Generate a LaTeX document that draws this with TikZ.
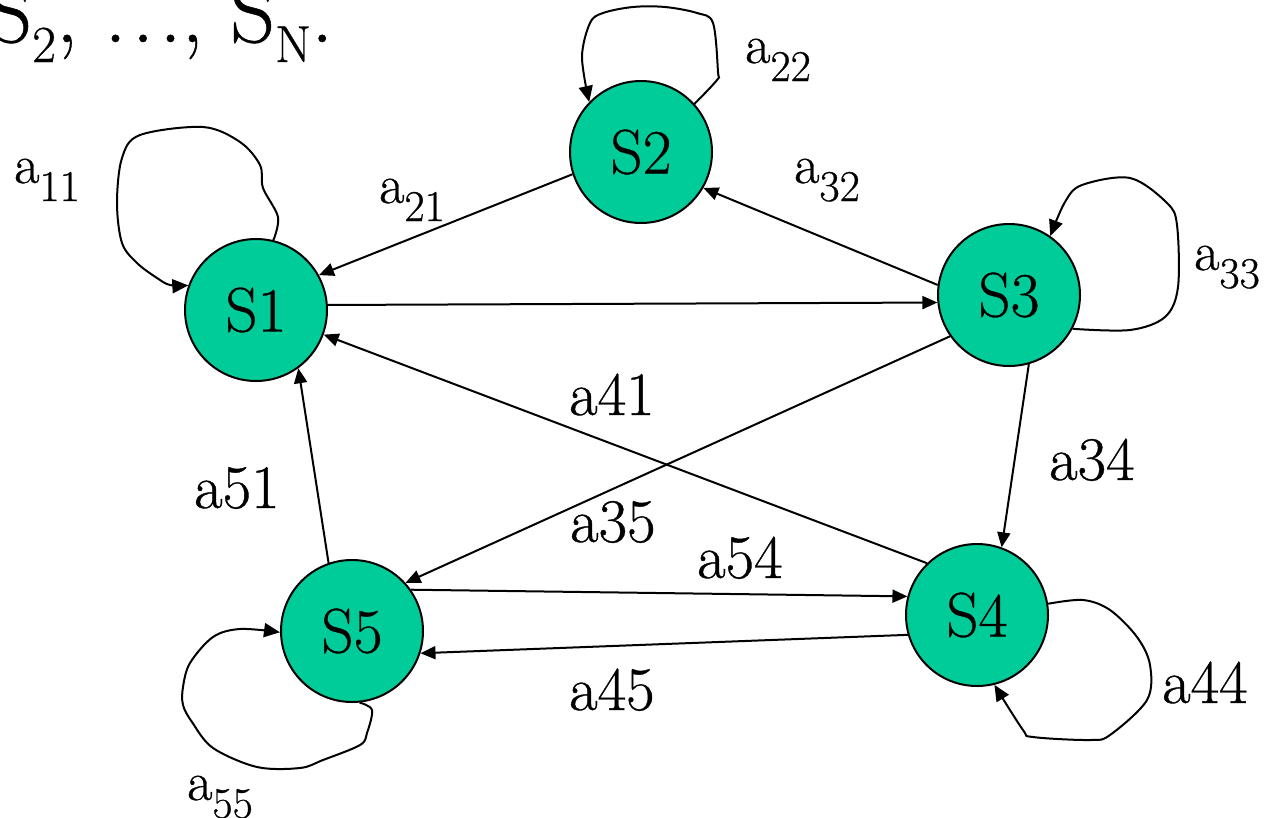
\documentclass[tikz,border=0pt]{standalone}
\usepackage{fontspec}
\setmainfont{Latin Modern Roman}[FakeBold=0.6]
\usetikzlibrary{arrows.meta}
\definecolor{stategreen}{RGB}{0,204,153}
\newcommand{\asub}[1]{{\fontsize{55}{55}\selectfont a}\raisebox{-18pt}{\fontsize{44}{44}\selectfont #1}}
\newcommand{\dotsx}{.\kern5.5pt.\kern5.5pt.}
\tikzset{
  state/.style={circle,draw=black,fill=stategreen,line width=2pt,minimum size=142pt,inner sep=0pt,font=\fontsize{63}{63}\selectfont},
  edge/.style={line width=2pt,-{Triangle[length=15pt,width=13pt]}},
  loopline/.style={line width=2pt,-{Triangle[length=16pt,width=14pt]}},
  lab/.style={anchor=base west,inner sep=0pt,font=\fontsize{62}{62}\selectfont},
  slab/.style={anchor=base west,inner sep=0pt},
}
\begin{document}
\begin{tikzpicture}[x=1pt,y=-1pt]
\useasboundingbox (0,0) rectangle (1264,817);
\clip (0,0) rectangle (1264,817);
\node[anchor=base west,inner sep=0pt,font=\fontsize{88}{88}\selectfont] (title) at (-13,42)
  {S\raisebox{-20pt}{\fontsize{52}{52}\selectfont 2}, \dotsx, S\raisebox{-20pt}{\fontsize{52}{52}\selectfont N}.};

\node[state] (S1) at (256,310) {S1};
\node[state] (S2) at (641,152) {S2};
\node[state] (S3) at (1009,295) {S3};
\node[state] (S4) at (977,615) {S4};
\node[state] (S5) at (352,631) {S5};

% straight edges
\draw[edge] (S2.198) -- (S1.29);
\draw[edge] (S1.4) -- (S3.186);
\draw[edge] (S3.172) -- (S2.330);
\draw[edge] (S3.286) -- (S4.70);
\draw[edge] (S3.215) -- (S5.42);
\draw[edge] (S4.134) -- (S1.340);
\draw[edge] (S5.109) -- (S1.306);
\draw[edge] (S5.35) -- (S4.165);
\draw[edge] (S4.196) -- (S5.342);

% self loops
\draw[loopline] plot[smooth,tension=0.55] coordinates {(S1.76) (278,217) (263,188) (260,165) (240,142) (203,127) (140,135) (122,158) (117,203) (122,243) (137,263) (157,278) (170,285) (S1.160)};
\draw[loopline] plot[smooth,tension=0.55] coordinates {(S2.42) (717,80) (718,72) (713,23) (697,13) (665,7) (633,7) (603,13) (590,23) (582,57) (S2.136)};
\draw[loopline] plot[smooth,tension=0.55] coordinates {(S3.332) (1130,330) (1165,317) (1178,287) (1177,225) (1167,203) (1130,178) (1082,185) (1065,202) (S3.55)};
\draw[loopline] plot[smooth,tension=0.55] coordinates {(S4.9) (1083,600) (1110,610) (1137,637) (1150,665) (1147,700) (1110,735) (1090,740) (1033,737) (1023,730) (S4.284)};
\draw[loopline] plot[smooth,tension=0.55] coordinates {(S5.276) (372,710) (367,733) (360,745) (323,760) (300,768) (257,767) (213,748) (192,722) (183,705) (183,687) (190,663) (213,637) (240,629) (S5.181)};

% labels
\node[slab] (l11) at (14,183) {\asub{11}};
\node[slab] (l21) at (379,203) {\asub{21}};
\node[slab] (l22) at (745,63) {\asub{22}};
\node[slab] (l32) at (794,183) {\asub{32}};
\node[slab] (l33) at (1194,270) {\asub{33}};
\node[slab] (l55) at (187,800) {\asub{55}};
\node[lab] (l41) at (569,415) {a41};
\node[lab] (l35) at (570,542) {a35};
\node[lab] (l34) at (1049,480) {a34};
\node[lab] (l51) at (194,508) {a51};
\node[lab] (l54) at (697,578) {a54};
\node[lab] (l45) at (569,710) {a45};
\node[lab] (l44) at (1162,703) {a44};
\end{tikzpicture}
\end{document}
